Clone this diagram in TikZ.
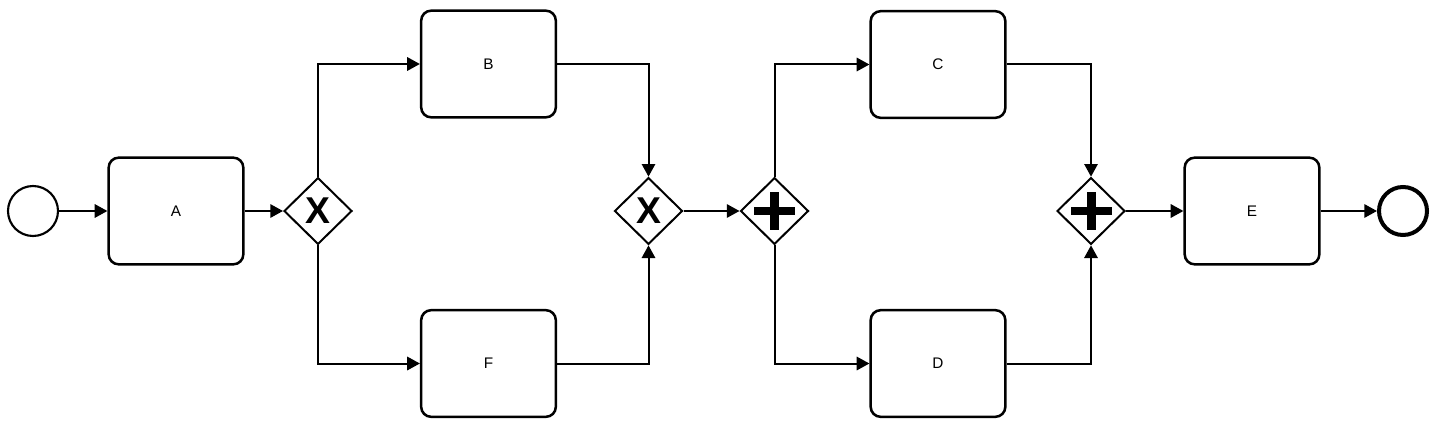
\documentclass[tikz,border=0pt]{standalone}
\usepackage{fontspec}
\setmainfont{Liberation Sans}
\usetikzlibrary{shapes.geometric,arrows.meta}
\tikzset{
  task/.style={draw, line width=1.9pt, rounded corners=7.5pt, minimum width=101pt, minimum height=80pt, inner sep=0pt, font=\fontsize{11.5}{13}\selectfont},
  gw/.style={draw, diamond, line width=1.5pt, minimum width=51pt, minimum height=50pt, inner sep=0pt},
  flow/.style={line width=1.5pt, -{Triangle[length=9.5pt,width=10pt]}},
  startev/.style={draw, circle, line width=1.6pt, minimum size=37.5pt, inner sep=0pt},
  endev/.style={draw, circle, line width=3pt, minimum size=36pt, inner sep=0pt},
  xmark/.style={font=\fontsize{28}{28}\selectfont\bfseries, inner sep=0pt},
}
\begin{document}
\begin{tikzpicture}[x=0.75pt,y=-0.75pt]
\useasboundingbox (0,0) rectangle (1438,435);
\node[startev] (s) at (33,211) {};
\node[task] (A) at (176,211) {A};
\node[gw] (g1) at (318,211) {};
\node[xmark] (x1) at (318,211) {X};
\node[task] (B) at (488.5,64) {B};
\node[task] (F) at (488.5,363.5) {F};
\node[gw] (g2) at (648.5,211) {};
\node[xmark] (x2) at (648.5,211) {X};
\node[gw] (g3) at (774.5,211) {};
\node[task] (C) at (938,64.5) {C};
\node[task] (D) at (938,363.5) {D};
\node[gw] (g4) at (1091,211) {};
\node[task] (E) at (1252,211) {E};
\node[endev] (e) at (1403,211) {};
\foreach \c in {774.5,1091}{
  \fill (\c-20.5,207) rectangle (\c+20.5,215);
  \fill (\c-4.5,192) rectangle (\c+4.5,230);
}
\draw[flow] (s) -- (A);
\draw[flow] (A) -- (g1);
\draw[flow] (g1.north) |- (B.west);
\draw[flow] (g1.south) |- (F.west);
\draw[flow] (B.east) -| (g2.north);
\draw[flow] (F.east) -| (g2.south);
\draw[flow] (g2) -- (g3);
\draw[flow] (g3.north) |- (C.west);
\draw[flow] (g3.south) |- (D.west);
\draw[flow] (C.east) -| (g4.north);
\draw[flow] (D.east) -| (g4.south);
\draw[flow] (g4) -- (E);
\draw[flow] (E) -- (e);
\end{tikzpicture}
\end{document}
